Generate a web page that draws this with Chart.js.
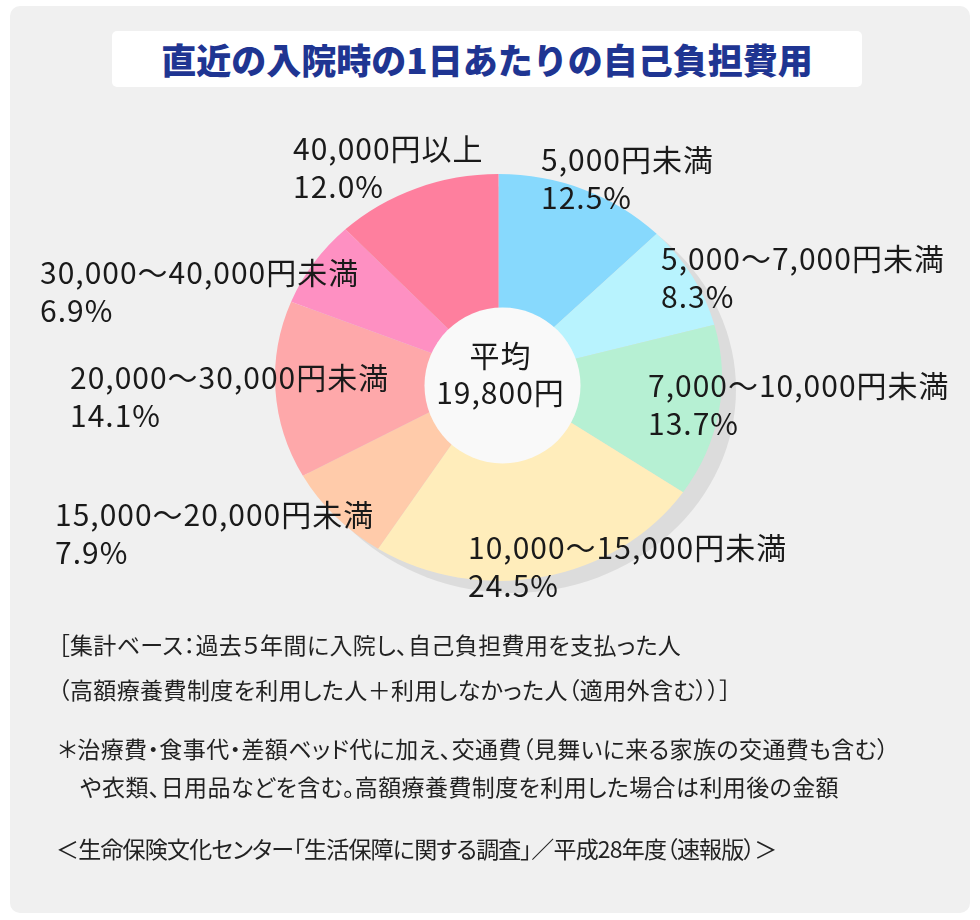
<!DOCTYPE html>
<html lang="ja">
<head>
<meta charset="UTF-8">
<style>
  body { margin: 0; background: #ffffff; font-family: "Noto Sans CJK JP", sans-serif; }
  .wrap { position: relative; width: 980px; height: 920px; }
  .panel { position: absolute; left: 10px; top: 6px; width: 960px; height: 907px; background: #f0f0f0; border-radius: 10px; }
  .title { position: absolute; left: 112px; top: 31px; width: 750px; height: 56px; background: #ffffff; border-radius: 5px;
           color: #1f3592; font-weight: 900; font-size: 35px; line-height: 56px; text-align: center; }
  #chart { position: absolute; left: 0; top: 0; }
  .note { position: absolute; font-size: 23px; line-height: 30px; color: #222; white-space: nowrap;
          font-feature-settings: "palt"; letter-spacing: 0.4px; }
  .tight { letter-spacing: -0.8px; }
</style>
<script src="https://cdn.jsdelivr.net/npm/chart.js"></script>
<title>直近の入院時の1日あたりの自己負担費用</title>
</head>
<body>
<div class="wrap">
  <div class="panel"></div>
  <div class="title">直近の入院時の1日あたりの自己負担費用</div>
  <canvas id="chart" width="980" height="920"></canvas>
  <div class="note" style="left:58px; top:629px;">［集計ベース：過去５年間に入院し、自己負担費用を支払った人</div>
  <div class="note" style="left:58px; top:674px;">（高額療養費制度を利用した人＋利用しなかった人（適用外含む））］</div>
  <div class="note" style="left:58px; top:733px;">＊治療費・食事代・差額ベッド代に加え、交通費（見舞いに来る家族の交通費も含む）</div>
  <div class="note" style="left:80px; top:771px;">や衣類、日用品などを含む。高額療養費制度を利用した場合は利用後の金額</div>
  <div class="note tight" style="left:56px; top:833px;">＜生命保険文化センター「生活保障に関する調査」／平成28年度（速報版）＞</div>
</div>

<script>
// データ
const categories = ["5,000円未満", "5,000〜7,000円未満", "7,000〜10,000円未満", "10,000〜15,000円未満",
                    "15,000〜20,000円未満", "20,000〜30,000円未満", "30,000〜40,000円未満", "40,000円以上"];
const shares = [12.5, 8.3, 13.7, 24.5, 7.9, 14.1, 6.9, 12.0];
const centerLines = ["平均", "19,800円"];

// 見た目
const colors = ["#87d9fd", "#b8f3fe", "#b6f0d3", "#ffedbb", "#ffcbaa", "#fea8aa", "#fe90c2", "#fe7f9e"];
const labelPos = [[541, 160], [661, 259], [648, 386], [468, 548], [55, 515], [70, 378], [40, 273], [293, 149]];
const squash = 0.91;          // 楕円の縦横比
const labelFont = '30px "Noto Sans CJK JP", sans-serif';

const ellipsePlugin = {
  id: "ellipse",
  beforeDatasetsDraw(chart) {
    const arc = chart.getDatasetMeta(0).data[0];
    const ctx = chart.ctx;
    const cx = arc.x, cy = arc.y, r = arc.outerRadius;
    // 影
    ctx.save();
    ctx.fillStyle = "#dcdcdc";
    ctx.beginPath();
    ctx.ellipse(cx + 14, cy + 12, r, r * squash, 0, 0, Math.PI * 2);
    ctx.fill();
    ctx.restore();
    // 縦につぶす
    ctx.save();
    ctx.translate(cx, cy);
    ctx.scale(1, squash);
    ctx.translate(-cx, -cy);
  },
  afterDatasetsDraw(chart) {
    const ctx = chart.ctx;
    ctx.restore();
    const arc = chart.getDatasetMeta(0).data[0];
    const cx = arc.x, cy = arc.y;

    // 中央の円
    ctx.save();
    ctx.fillStyle = "#f9f9f9";
    ctx.beginPath();
    ctx.arc(cx + 4, cy + 8, 78, 0, Math.PI * 2);
    ctx.fill();

    ctx.fillStyle = "#1a1a1a";
    ctx.font = labelFont;
    ctx.letterSpacing = "1px";
    ctx.textAlign = "center";
    ctx.textBaseline = "middle";
    ctx.fillText(centerLines[0], cx + 2, cy - 22);
    ctx.fillText(centerLines[1], cx + 2, cy + 15);

    // ラベル
    ctx.textAlign = "left";
    categories.forEach((c, i) => {
      const [x, y] = labelPos[i];
      ctx.fillText(c, x, y);
      ctx.fillText(shares[i].toFixed(1) + "%", x, y + 38);
    });
    ctx.restore();
  }
};

new Chart(document.getElementById("chart"), {
  type: "pie",
  data: {
    labels: categories,
    datasets: [{
      data: shares,
      backgroundColor: colors,
      borderWidth: 0,
      clip: false
    }]
  },
  options: {
    responsive: false,
    animation: false,
    layout: { padding: { left: 275, right: 258, top: 154, bottom: 319 } },
    plugins: {
      legend: { display: false },
      tooltip: { enabled: false }
    }
  },
  plugins: [ellipsePlugin]
});
</script>
</body>
</html>
